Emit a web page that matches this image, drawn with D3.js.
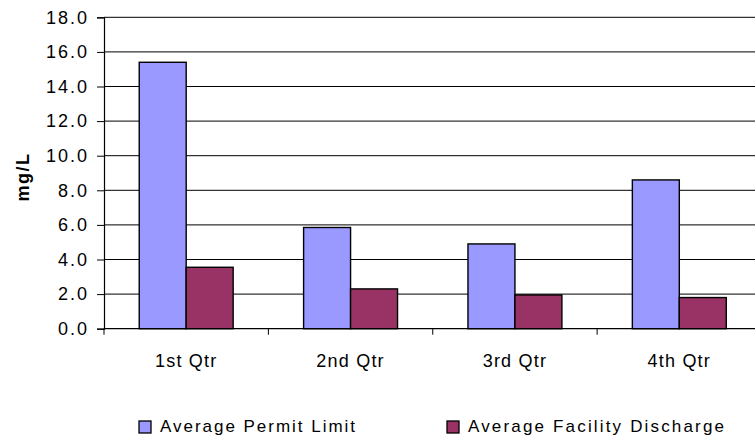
<!DOCTYPE html>
<html>
<head>
<meta charset="utf-8">
<script src="https://cdn.jsdelivr.net/npm/d3@7"></script>
<style>
  html, body { margin: 0; padding: 0; background: #fff; }
  svg { display: block; }
  text { font-family: "Liberation Sans", Arial, sans-serif; fill: #000; }
</style>
</head>
<body>
<svg id="chart" width="755" height="441"></svg>
<script>
const categories = ["1st Qtr", "2nd Qtr", "3rd Qtr", "4th Qtr"];
const seriesNames = ["Average Permit Limit", "Average Facility Discharge"];
const permitLimit = [15.4, 5.85, 4.9, 8.6];
const facilityDischarge = [3.55, 2.3, 1.95, 1.8];
const yTicks = [0, 2, 4, 6, 8, 10, 12, 14, 16, 18];
const seriesColors = ["#9999FF", "#993366"];

(function () {
const svg = d3.select("#chart");
const mLeft = 104, mRight = 761.5, mTop = 17.3, mBottom = 328.7;

const x = d3.scaleBand().domain(categories).range([mLeft, mRight]).padding(0);
const y = d3.scaleLinear().domain([0, 18]).range([mBottom, mTop]);

// gridlines
svg.append("g").selectAll("line").data(yTicks.filter(d => d > 0)).join("line")
  .attr("x1", mLeft).attr("x2", 760)
  .attr("y1", d => y(d)).attr("y2", d => y(d))
  .attr("stroke", "#000").attr("stroke-width", 1);

// bars
const bw = x.bandwidth() / 3.5;
const series = [permitLimit, facilityDischarge];
series.forEach((vals, si) => {
  svg.append("g").selectAll("rect").data(vals).join("rect")
    .attr("x", (d, i) => x(categories[i]) + x.bandwidth() / 2 - bw + si * bw)
    .attr("y", d => y(d))
    .attr("width", bw)
    .attr("height", d => y(0) - y(d))
    .attr("fill", seriesColors[si])
    .attr("stroke", "#000").attr("stroke-width", 1.4);
});

// y axis
const yAxis = d3.axisLeft(y).tickValues(yTicks).tickFormat(d3.format(".1f")).tickSize(7).tickPadding(8);
const gy = svg.append("g").attr("transform", `translate(${mLeft},0)`).call(yAxis);
gy.select(".domain").attr("stroke", "#000").attr("stroke-width", 1.2);
gy.selectAll(".tick line").attr("stroke", "#000");
gy.selectAll("text").style("font-size", "18px").style("letter-spacing", "2px").attr("fill", "#000")
  .style("font-family", "'Liberation Sans', Arial, sans-serif");

// x axis
const gx = svg.append("g").attr("transform", `translate(0,${mBottom})`);
gx.append("line").attr("x1", mLeft).attr("x2", 760).attr("y1", 0).attr("y2", 0).attr("stroke", "#000").attr("stroke-width", 1.2);
gx.selectAll("line.tk").data(categories).join("line").attr("class", "tk")
  .attr("x1", d => x(d)).attr("x2", d => x(d)).attr("y1", 0).attr("y2", 6).attr("stroke", "#000");
gx.selectAll("text").data(categories).join("text")
  .attr("x", d => x(d) + x.bandwidth() / 2)
  .attr("y", 38)
  .attr("text-anchor", "middle")
  .style("font-size", "18px").style("letter-spacing", "1.2px")
  .text(d => d);

// y label
svg.append("text")
  .attr("transform", `translate(29,177) rotate(-90)`)
  .attr("text-anchor", "middle")
  .style("font-size", "18px").style("font-weight", "bold").style("letter-spacing", "1.5px")
  .text("mg/L");

// legend
const legendX = [139, 447];
const legendLen = [195, 256];
const lg = svg.append("g");
seriesNames.forEach((name, i) => {
  lg.append("rect").attr("x", legendX[i]).attr("y", 421).attr("width", 12).attr("height", 12)
    .attr("fill", seriesColors[i]).attr("stroke", "#000").attr("stroke-width", 1.3);
  lg.append("text").attr("x", legendX[i] + 21).attr("y", 432)
    .attr("textLength", legendLen[i]).attr("lengthAdjust", "spacing")
    .style("font-size", "17px")
    .text(name);
});
})();
</script>
</body>
</html>
